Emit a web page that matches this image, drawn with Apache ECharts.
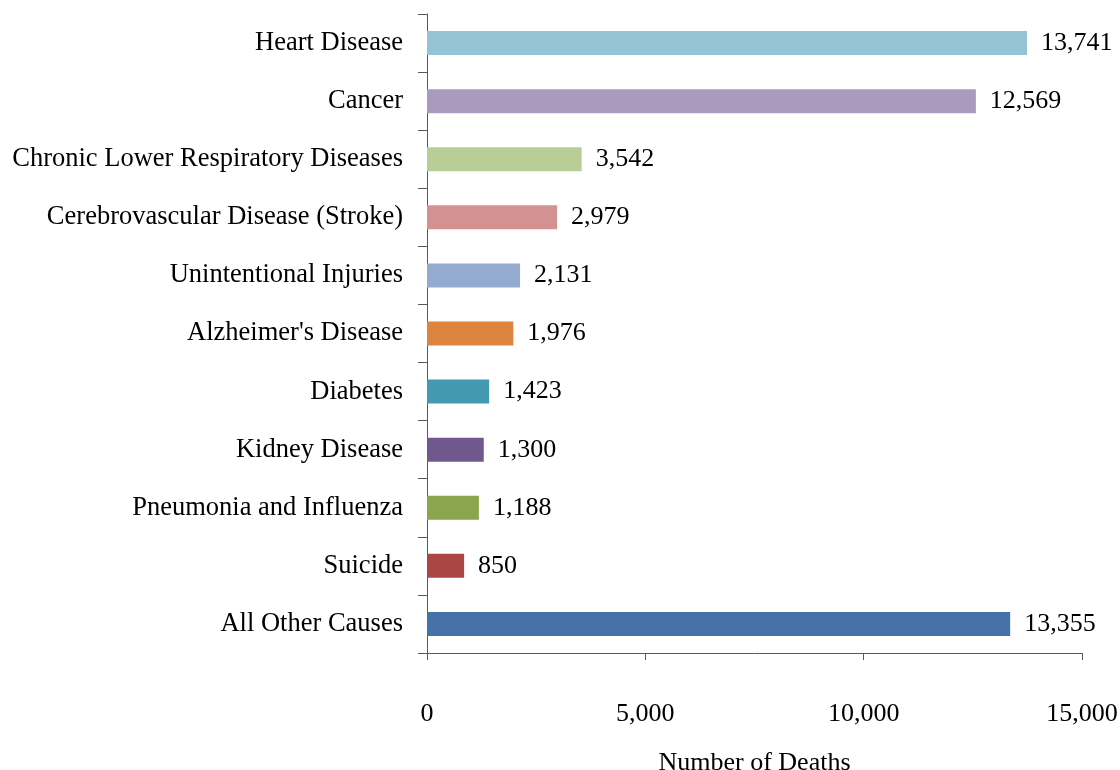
<!DOCTYPE html>
<html><head><meta charset="utf-8">
<script src="https://cdn.jsdelivr.net/npm/echarts@6/dist/echarts.min.js"></script>
<style>html,body{margin:0;padding:0;background:#fff}#c{width:1120px;height:770px}</style>
</head><body><div id="c"></div>
<script>
const categories = ["Heart Disease","Cancer","Chronic Lower Respiratory Diseases","Cerebrovascular Disease (Stroke)","Unintentional Injuries","Alzheimer's Disease","Diabetes","Kidney Disease","Pneumonia and Influenza","Suicide","All Other Causes"];
const deaths = [13741,12569,3542,2979,2131,1976,1423,1300,1188,850,13355];
const barColors = ["#93C3D4","#A99ABE","#B9CE96","#D39291","#95AAD0","#DD843E","#4399AF","#70588F","#89A54E","#AA4643","#4572A7"];
const xTicks = {min:0, max:15000, interval:5000};
const xTitle = "Number of Deaths";
const font = "'Liberation Serif','Times New Roman',serif";
const fmt = v => Number(v).toLocaleString('en-US');
const chart = echarts.init(document.getElementById('c'));
chart.setOption({
  animation:false,
  grid:{left:427,right:38,top:14,bottom:117,containLabel:false,outerBoundsMode:'none'},
  xAxis:{type:'value',min:xTicks.min,max:xTicks.max,interval:xTicks.interval,
    name:xTitle,nameLocation:'middle',nameGap:97,
    nameTextStyle:{fontFamily:font,fontSize:26,color:'#000'},
    axisLine:{show:true,lineStyle:{color:'#595959',width:1}},
    axisTick:{show:true,length:7,lineStyle:{color:'#595959'}},
    axisLabel:{fontFamily:font,fontSize:26,color:'#000',margin:48,formatter:fmt},
    splitLine:{show:false}},
  yAxis:{type:'category',data:categories,inverse:true,
    axisLine:{show:true,lineStyle:{color:'#595959',width:1}},
    axisTick:{show:true,length:9,lineStyle:{color:'#595959'}},
    axisLabel:{fontFamily:font,fontSize:26.5,color:'#000',margin:24}},
  series:[{type:'bar',barWidth:24,
    data:deaths.map((v,i)=>({value:v,itemStyle:{color:barColors[i]}})),
    label:{show:true,position:'right',distance:14,fontFamily:font,fontSize:26,color:'#000',formatter:p=>fmt(p.value)}}]
});
</script></body></html>
